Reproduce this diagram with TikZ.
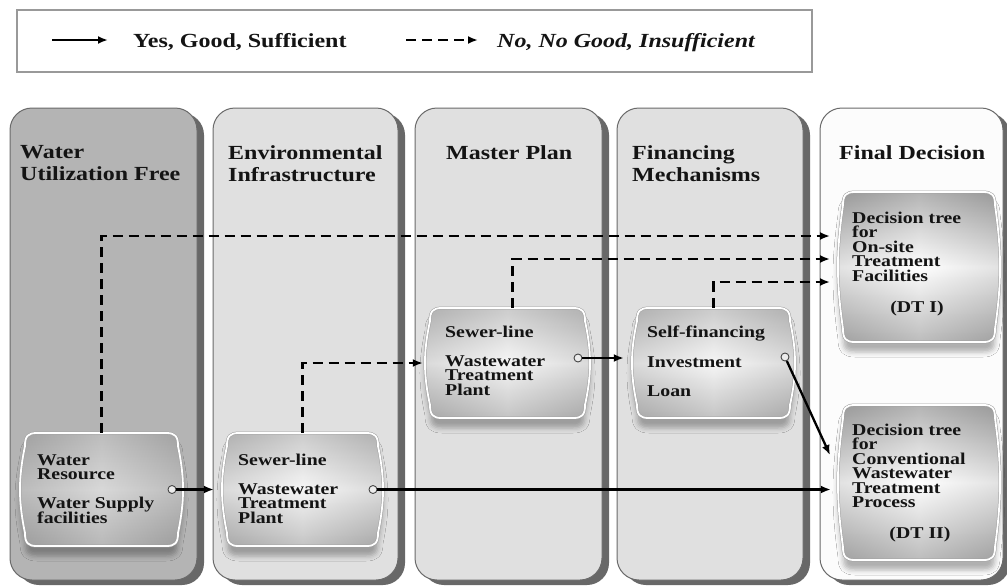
\documentclass[tikz,border=0pt]{standalone}
\usepackage{fontspec}
\setmainfont{Liberation Serif}[FakeStretch=1.2]
\usetikzlibrary{arrows.meta,shadows,shadows.blur,calc}

\definecolor{colborder}{HTML}{6A6A6A}
\definecolor{colshadow}{HTML}{686868}
\definecolor{darkcol}{HTML}{B4B4B4}
\definecolor{lightcol}{HTML}{E0E0E0}
\definecolor{finalcol}{HTML}{FCFCFC}
\definecolor{txt}{HTML}{141414}

% tight bold face for the box labels
\newcommand\boxfont{\fontsize{16.5}{14.5}\selectfont\bfseries\lineskiplimit=-20pt\relax\lineskip=0pt\relax}

% barrel-shaped box outline: x1,y1 (top left extent), x2,y2 (bottom right extent)
\newcommand\bpath[4]{({#1+17},#2) -- ({#3-17},#2)
  .. controls ({#3-8},#2) and ({#3-5},{#2+3}) .. ({#3-5},{#2+13})
  .. controls ({#3+1.7},{#2+0.4*(#4-#2)}) and ({#3+1.7},{#4-0.4*(#4-#2)}) .. ({#3-5},{#4-13})
  .. controls ({#3-5},{#4-3}) and ({#3-8},#4) .. ({#3-17},#4)
  -- ({#1+17},#4)
  .. controls ({#1+8},#4) and ({#1+5},{#4-3}) .. ({#1+5},{#4-13})
  .. controls ({#1-1.7},{#4-0.4*(#4-#2)}) and ({#1-1.7},{#2+0.4*(#4-#2)}) .. ({#1+5},{#2+13})
  .. controls ({#1+5},{#2+3}) and ({#1+8},#2) .. ({#1+17},#2) -- cycle}

% shaded barrel box: extents, then top / middle / bottom colours
\newcommand\barrel[7]{%
  \path[blur shadow={shadow xshift=0pt,shadow yshift=-10pt,shadow blur radius=5pt,shadow opacity=30}] \bpath{#1}{#2}{#3}{#4};
  \path[top color=#5, bottom color=#7, middle color=#6] \bpath{#1}{#2}{#3}{#4};
  \path[left color=black!70, right color=black!70, middle color=white, fill opacity=0.16] \bpath{#1}{#2}{#3}{#4};
  \draw[gray!75, line width=2.8pt] \bpath{#1}{#2}{#3}{#4};
  \draw[white, line width=1.8pt] \bpath{#1}{#2}{#3}{#4};
}

\tikzset{
  column/.style={draw=colborder, line width=1pt, rounded corners=22pt, inner sep=0pt,
    drop shadow={shadow xshift=7pt, shadow yshift=-5pt, fill=colshadow, opacity=1}},
  coltitle/.style={anchor=north west, inner sep=0pt, align=left, text=txt,
    font=\fontsize{20}{22}\selectfont\bfseries},
  boxtext/.style={anchor=north west, inner sep=0pt, align=left, text=txt, font=\boxfont},
  boxarea/.style={inner sep=0pt},
  port/.style={circle, inner sep=0pt, minimum size=8pt, draw=gray!55!black, fill=gray!15, line width=0.9pt},
  solidarr/.style={line width=2.3pt, -{Latex[length=10pt,width=8pt]}},
  dasharr/.style={line width=2.3pt, dash pattern=on 10pt off 6pt, -{Latex[length=10pt,width=8pt]}},
  legendtext/.style={anchor=base west, inner sep=0pt, text=txt, font=\fontsize{20}{22}\selectfont\bfseries}
}

\begin{document}
\begin{tikzpicture}[x=1pt, y=-1pt]
\useasboundingbox[fill=white] (0,0) rectangle (1007,587);

% legend
\node[draw=gray!80, line width=1.3pt, fill=white, inner sep=0pt, minimum width=795pt, minimum height=62pt] (legend) at (414.5,41) {};
\node[legendtext] (lyes) at (133,47) {Yes, Good, Sufficient};
\node[legendtext] (lno) at (497,47) {\itshape No, No Good, Insufficient};
\coordinate (lsolid) at (52,40);
\coordinate (ldash) at (406,40);
\draw[solidarr, shorten >=25pt] (lsolid) -- (lsolid -| lyes.west);
\draw[dasharr, shorten >=19pt] (ldash) -- (ldash -| lno.west);

% columns
\node[column, fill=darkcol,  minimum width=187pt, minimum height=472pt] (col1) at (103.5,344) {};
\node[column, fill=lightcol, minimum width=185pt, minimum height=472pt] (col2) at (305.5,344) {};
\node[column, fill=lightcol, minimum width=187pt, minimum height=472pt] (col3) at (508.5,344) {};
\node[column, fill=lightcol, minimum width=186pt, minimum height=472pt] (col4) at (710,344) {};
\node[column, fill=finalcol, minimum width=183pt, minimum height=472pt] (col5) at (911.5,344) {};

% column titles
\node[coltitle] (t1) at (20,145) {Water\\Utilization Free};
\node[coltitle] (t2) at (228,145) {Environmental\\Infrastructure};
\node[coltitle] (t3) at (446,145) {Master Plan};
\node[coltitle] (t4) at (632,145) {Financing\\Mechanisms};
\node[coltitle] (t5) at (839,145) {Final Decision};

% boxes
\barrel{20}{433}{183}{546}{gray!62}{gray!36}{gray!66}
\barrel{222}{433}{383}{546}{gray!48}{gray!8}{gray!55}
\barrel{425}{308}{590}{418}{gray!48}{gray!8}{gray!55}
\barrel{632}{308}{795}{418}{gray!48}{gray!8}{gray!55}
\barrel{838}{192}{1000}{342}{gray!70}{white}{gray!62}
\barrel{838}{405}{1000}{560}{gray!70}{white}{gray!62}

\node[boxarea, minimum width=163pt, minimum height=113pt] (boxA) at (101.5,489.5) {};
\node[boxarea, minimum width=161pt, minimum height=113pt] (boxB) at (302.5,489.5) {};
\node[boxarea, minimum width=165pt, minimum height=110pt] (boxC) at (507.5,363) {};
\node[boxarea, minimum width=163pt, minimum height=110pt] (boxD) at (713.5,363) {};
\node[boxarea, minimum width=162pt, minimum height=150pt] (dt1) at (919,267) {};
\node[boxarea, minimum width=162pt, minimum height=155pt] (dt2) at (919,482.5) {};

% box texts
\node[boxtext] (txA) at (37,454) {Water\\Resource\\[14.5pt]Water Supply\\facilities};
\node[boxtext] (txB) at (238,453.8) {Sewer-line\\[14.5pt]Wastewater\\Treatment\\Plant};
\node[boxtext] (txC) at (445,325.8) {Sewer-line\\[14.5pt]Wastewater\\Treatment\\Plant};
\node[boxtext] (txD) at (647,325.7) {Self-financing\\[15pt]Investment\\[15pt]Loan};
\node[boxtext] (txE) at (852,211.7) {Decision tree\\for\\On-site\\Treatment\\Facilities};
\node[boxtext, anchor=base] (txE2) at (917,312) {(DT I)};
\node[boxtext] (txF) at (852,423.7) {Decision tree\\for\\Conventional\\Wastewater\\Treatment\\Process};
\node[boxtext, anchor=base] (txF2) at (920,538) {(DT II)};

% connector ends at the decision boxes
\coordinate (in1) at (830,236);
\coordinate (in2) at (830,259);
\coordinate (in3) at (830,282);
\coordinate (in4) at (830,455);

% dashed "no" paths
\draw[dasharr] (boxA.north) |- (in1);
\draw[dasharr, shorten >=2pt] (boxB.north) |- (boxC.west);
\draw[dasharr] ([xshift=5pt]boxC.north) |- (in2);
\draw[dasharr] (boxD.north) |- (in3);

% ports
\node[port] (cA) at (172,489.5) {};
\node[port] (cB) at (373,489.5) {};
\node[port] (cC) at (578,358) {};
\node[port] (cD) at (785,357) {};

% solid "yes" paths
\draw[solidarr, shorten >=8pt] (cA) -- (boxB.west);
\draw[solidarr, shorten >=7pt] (cB) -- (cB -| dt2.west);
\draw[solidarr, shorten >=8pt] (cC) -- (cC -| boxD.west);
\draw[solidarr] (cD) -- (in4);
\end{tikzpicture}
\end{document}
